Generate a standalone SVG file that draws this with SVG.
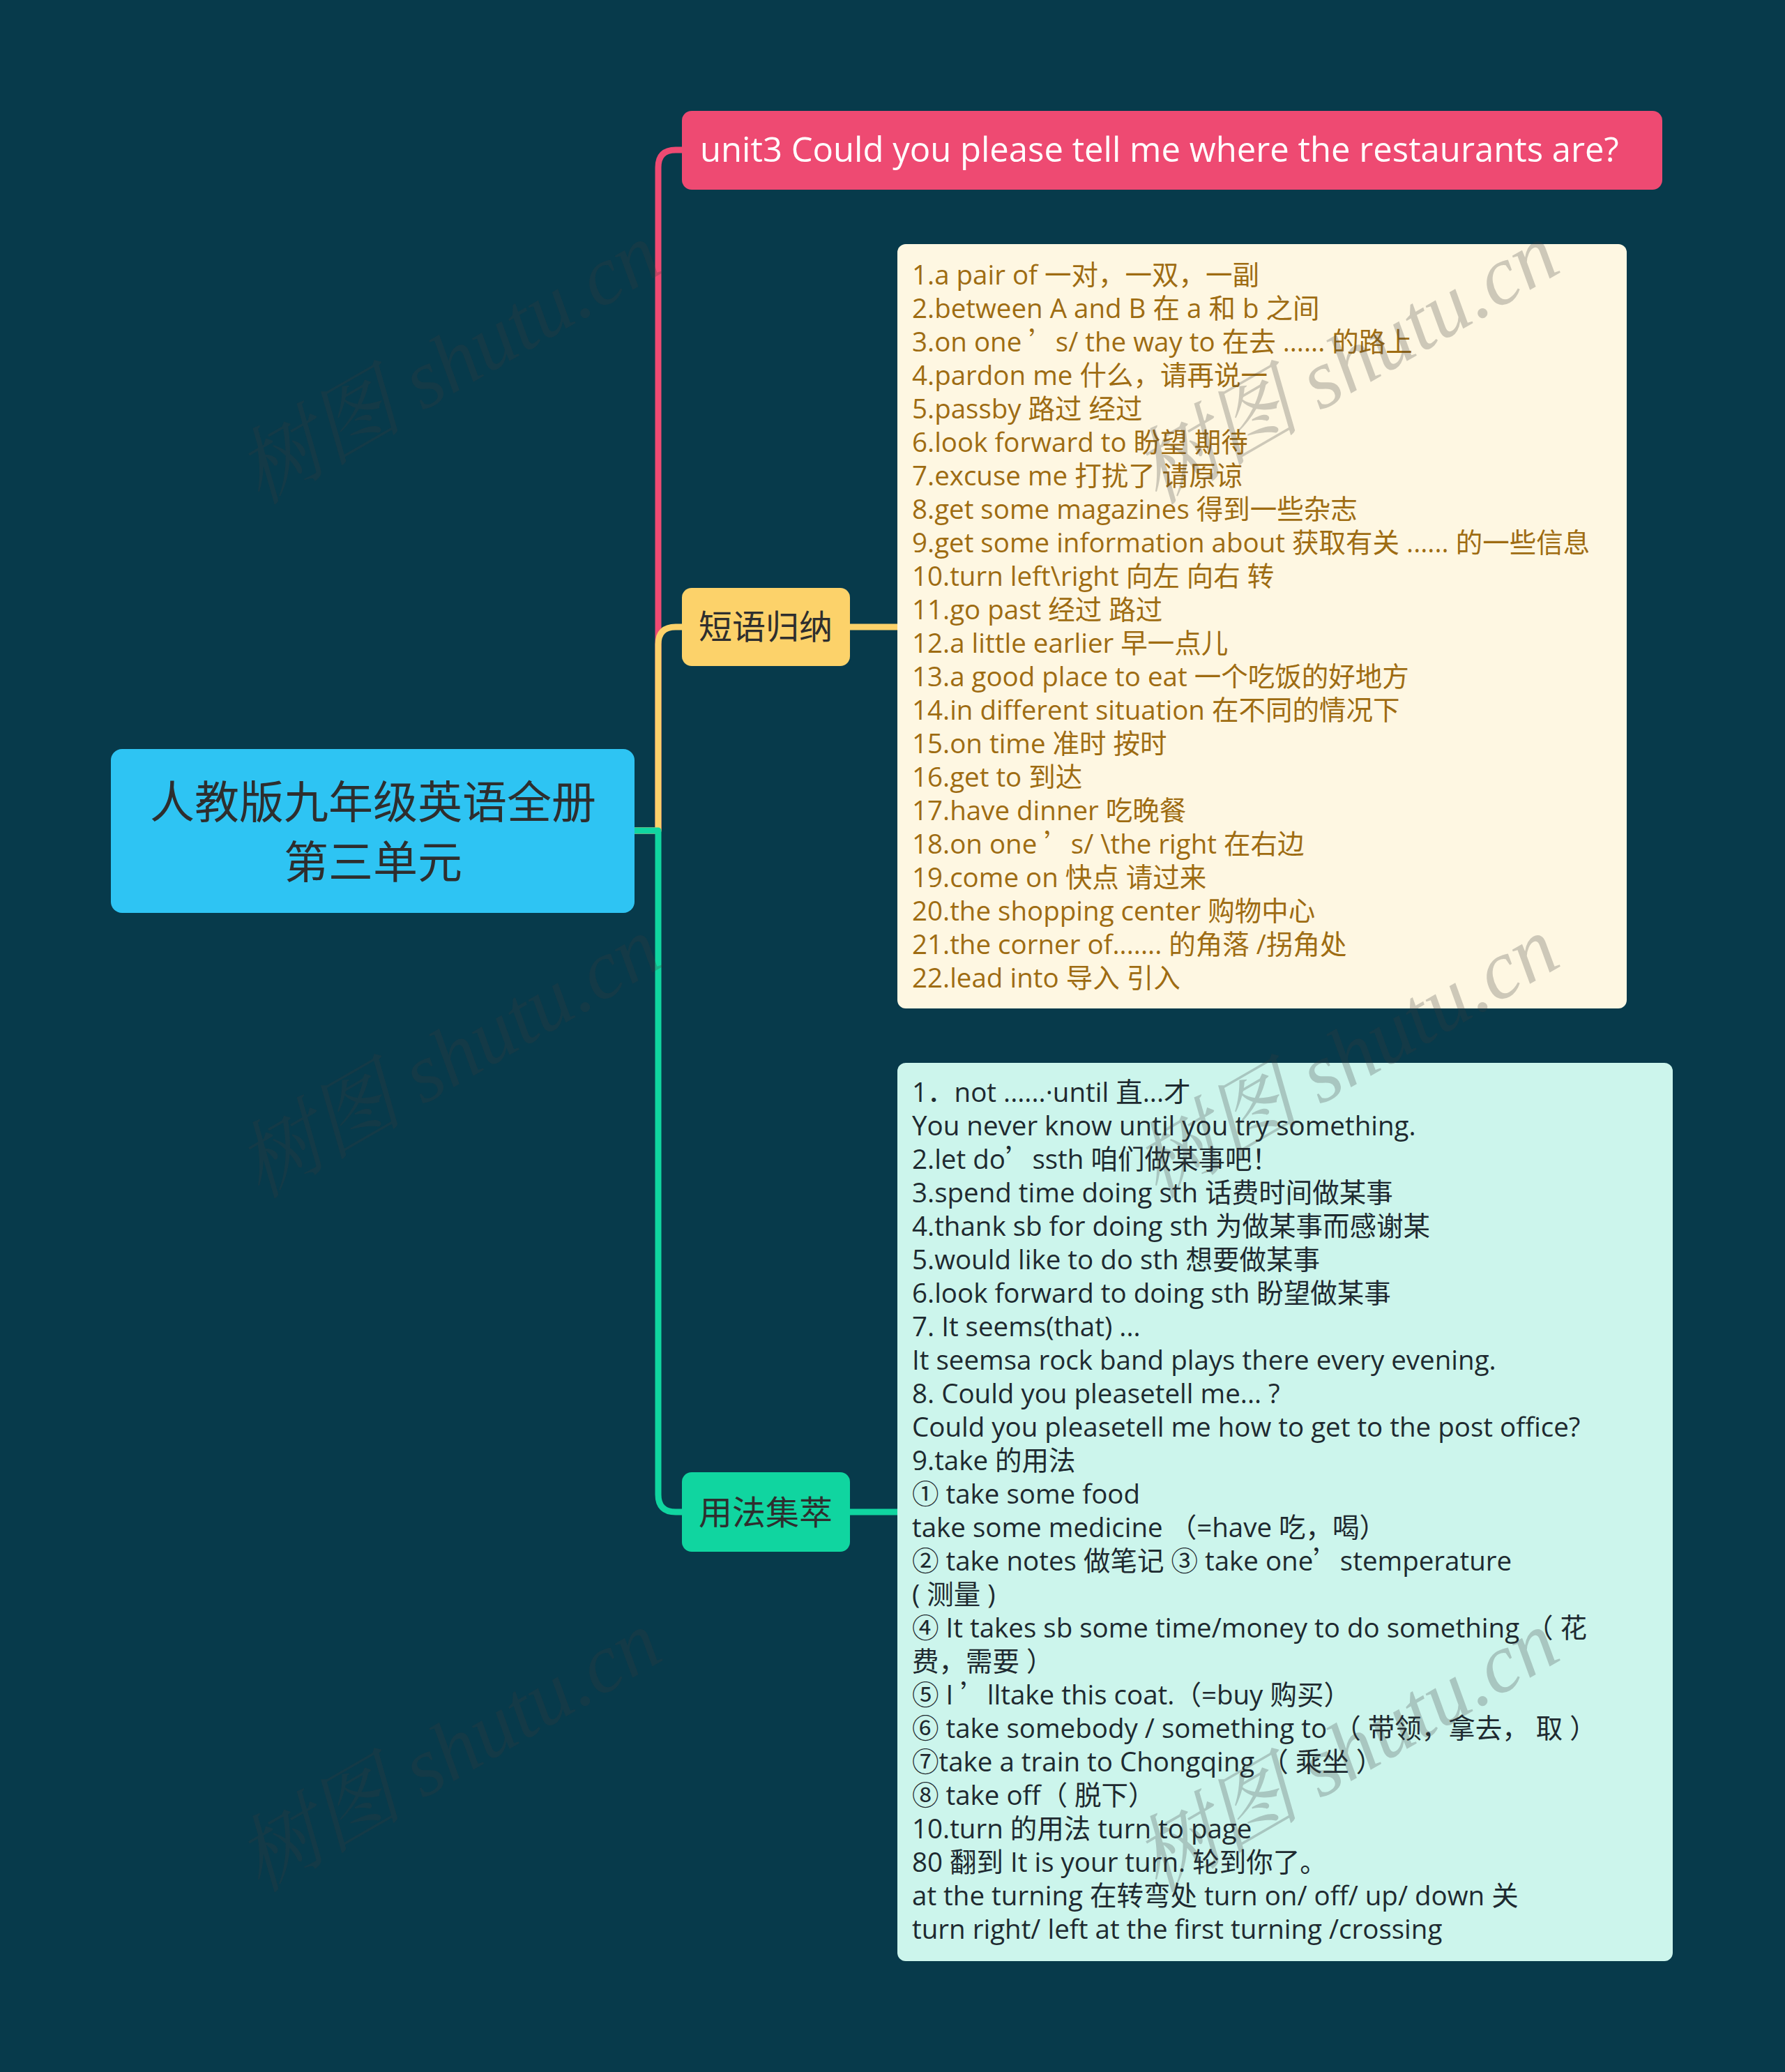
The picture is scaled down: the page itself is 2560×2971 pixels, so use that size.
<svg xmlns="http://www.w3.org/2000/svg" width="2560" height="2971" viewBox="0 0 2560 2971">
<defs>
<style>
.t{font-family:"Open Sans","Noto Sans CJK SC",sans-serif}
.q{font-family:"Noto Sans CJK SC",sans-serif}
.conn{fill:none;stroke-width:9;stroke-linejoin:round}
.lst{font-size:38.5px}
.yl{fill:#9E6C12}
.gl{fill:#1E2A30}
.lbl{font-family:"Noto Sans CJK SC",sans-serif;fill:#2E2E2E;text-anchor:middle}
.wm{font-family:"Liberation Serif","Noto Serif CJK SC","Noto Sans CJK SC",serif;font-style:italic;font-size:120px;fill:#3c3c3c;fill-opacity:0.25;text-anchor:middle}
</style>
</defs>
<rect width="2560" height="2971" fill="#073A4B"/>
<g id="connectors">
<path class="conn" stroke="#EE4A72" d="M910 1191 H944 V240 Q944 215 969 215 H982"/>
<path class="conn" stroke="#FCD26A" d="M910 1191 H944 V924 Q944 899 969 899 H982"/>
<path class="conn" stroke="#FCD26A" d="M1216 899 H1290"/>
<path class="conn" stroke="#10D5A0" d="M910 1191 H944 V2143 Q944 2168 969 2168 H982"/>
<path class="conn" stroke="#10D5A0" d="M1216 2168 H1290"/>
</g>
<g id="root">
<rect x="159" y="1074" width="751" height="235" rx="16" fill="#2EC4F3"/>
<text class="lbl" font-size="64" x="535" y="1173">人教版九年级英语全册</text>
<text class="lbl" font-size="64" x="535" y="1259">第三单元</text>
</g>
<g id="title">
<rect x="978" y="159" width="1406" height="113" rx="14" fill="#EE4A72"/>
<text class="t" font-size="49" fill="#FFFFFF" x="1004" y="232">unit3 Could you please tell me where the restaurants are?</text>
</g>
<g id="phrases">
<rect x="978" y="843" width="241" height="112" rx="14" fill="#FCD26A"/>
<text class="lbl" font-size="48" x="1098" y="916">短语归纳</text>
</g>
<g id="phrases-list">
<rect x="1287" y="350" width="1046" height="1096" rx="12" fill="#FEF7E2"/>
<text class="t lst yl" x="1308" y="408">
<tspan x="1308" y="408">1.a pair of 一对，一双，一副</tspan>
<tspan x="1308" dy="48">2.between A and B 在 a 和 b 之间</tspan>
<tspan x="1308" dy="48">3.on one <tspan class="q">’</tspan>s/ the way to 在去 ...... 的路上</tspan>
<tspan x="1308" dy="48">4.pardon me 什么，请再说一</tspan>
<tspan x="1308" dy="48">5.passby 路过 经过</tspan>
<tspan x="1308" dy="48">6.look forward to 盼望 期待</tspan>
<tspan x="1308" dy="48">7.excuse me 打扰了 请原谅</tspan>
<tspan x="1308" dy="48">8.get some magazines 得到一些杂志</tspan>
<tspan x="1308" dy="48">9.get some information about 获取有关 ...... 的一些信息</tspan>
<tspan x="1308" dy="48">10.turn left\right 向左 向右 转</tspan>
<tspan x="1308" dy="48">11.go past 经过 路过</tspan>
<tspan x="1308" dy="48">12.a little earlier 早一点儿</tspan>
<tspan x="1308" dy="48">13.a good place to eat 一个吃饭的好地方</tspan>
<tspan x="1308" dy="48">14.in different situation 在不同的情况下</tspan>
<tspan x="1308" dy="48">15.on time 准时 按时</tspan>
<tspan x="1308" dy="48">16.get to 到达</tspan>
<tspan x="1308" dy="48">17.have dinner 吃晚餐</tspan>
<tspan x="1308" dy="48">18.on one <tspan class="q">’</tspan>s/ \the right 在右边</tspan>
<tspan x="1308" dy="48">19.come on 快点 请过来</tspan>
<tspan x="1308" dy="48">20.the shopping center 购物中心</tspan>
<tspan x="1308" dy="48">21.the corner of....... 的角落 /拐角处</tspan>
<tspan x="1308" dy="48">22.lead into 导入 引入</tspan>
</text>
</g>
<g id="usage">
<rect x="978" y="2111" width="241" height="114" rx="14" fill="#10D5A0"/>
<text class="lbl" font-size="48" x="1098" y="2186">用法集萃</text>
</g>
<g id="usage-list">
<rect x="1287" y="1524" width="1112" height="1288" rx="12" fill="#CCF5EC"/>
<text class="t lst gl" x="1308" y="1580">
<tspan x="1308" y="1580">1<tspan class="q">．</tspan>not ......·until 直...才</tspan>
<tspan x="1308" dy="48">You never know until you try something.</tspan>
<tspan x="1308" dy="48">2.let do<tspan class="q">’</tspan>ssth 咱们做某事吧！</tspan>
<tspan x="1308" dy="48">3.spend time doing sth 话费时间做某事</tspan>
<tspan x="1308" dy="48">4.thank sb for doing sth 为做某事而感谢某</tspan>
<tspan x="1308" dy="48">5.would like to do sth 想要做某事</tspan>
<tspan x="1308" dy="48">6.look forward to doing sth 盼望做某事</tspan>
<tspan x="1308" dy="48">7. It seems(that) ...</tspan>
<tspan x="1308" dy="48">It seemsa rock band plays there every evening.</tspan>
<tspan x="1308" dy="48">8. Could you pleasetell me... ?</tspan>
<tspan x="1308" dy="48">Could you pleasetell me how to get to the post office?</tspan>
<tspan x="1308" dy="48">9.take 的用法</tspan>
<tspan x="1308" dy="48">① take some food</tspan>
<tspan x="1308" dy="48">take some medicine （=have 吃，喝）</tspan>
<tspan x="1308" dy="48">② take notes 做笔记 ③ take one<tspan class="q">’</tspan>stemperature</tspan>
<tspan x="1308" dy="48">( 测量 )</tspan>
<tspan x="1308" dy="48">④ It takes sb some time/money to do something （ 花</tspan>
<tspan x="1308" dy="48">费，需要 ）</tspan>
<tspan x="1308" dy="48">⑤ I <tspan class="q">’</tspan>lltake this coat.（=buy 购买）</tspan>
<tspan x="1308" dy="48">⑥ take somebody / something to （ 带领，拿去， 取 ）</tspan>
<tspan x="1308" dy="48">⑦take a train to Chongqing （ 乘坐 ）</tspan>
<tspan x="1308" dy="48">⑧ take off（ 脱下）</tspan>
<tspan x="1308" dy="48">10.turn 的用法 turn to page</tspan>
<tspan x="1308" dy="48">80 翻到 It is your turn. 轮到你了。</tspan>
<tspan x="1308" dy="48">at the turning 在转弯处 turn on/ off/ up/ down 关</tspan>
<tspan x="1308" dy="48">turn right/ left at the first turning /crossing</tspan>
</text>
</g>
<g id="watermarks">
<text class="wm" transform="translate(643 520) rotate(-30)" y="42">树图 shutu.cn</text>
<text class="wm" transform="translate(643 1515) rotate(-30)" y="42">树图 shutu.cn</text>
<text class="wm" transform="translate(643 2510) rotate(-30)" y="42">树图 shutu.cn</text>
<text class="wm" transform="translate(1930 520) rotate(-30)" y="42">树图 shutu.cn</text>
<text class="wm" transform="translate(1930 1515) rotate(-30)" y="42">树图 shutu.cn</text>
<text class="wm" transform="translate(1930 2510) rotate(-30)" y="42">树图 shutu.cn</text>
</g>
</svg>
